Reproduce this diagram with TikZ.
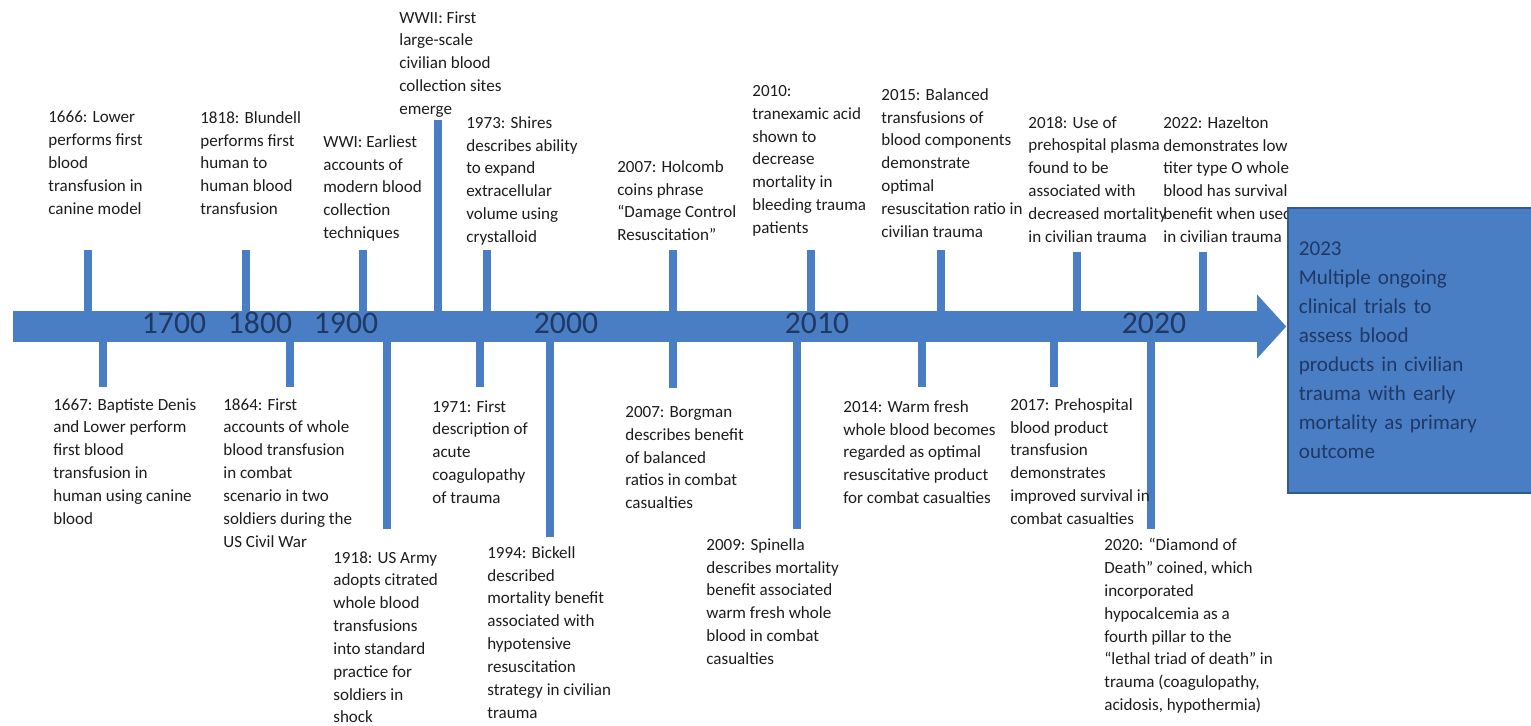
\documentclass[tikz,border=0pt]{standalone}
\usepackage{fontspec}
\setmainfont{Carlito}
\usepackage{xcolor}
\usepackage{tikz}
\usetikzlibrary{calc}
\definecolor{barblue}{HTML}{4A7EC4}
\definecolor{boxedge}{HTML}{35598F}
\definecolor{yearnavy}{HTML}{1F3864}
\definecolor{ink}{HTML}{1C1C1C}
\tikzset{
  eventtext/.style={
    anchor=north west, inner sep=0pt, align=left,
    font=\fontsize{9.7}{13}\selectfont, text=ink
  },
  yearlabel/.style={
    inner sep=0pt, font=\fontsize{18}{18}\selectfont, text=yearnavy
  },
  timebar/.style={
    rectangle, fill=barblue, inner sep=0pt,
    minimum width=24.88cm, minimum height=0.62cm
  },
  tickline/.style={draw=barblue, line width=4.5pt},
  outcomebox/.style={
    rectangle, draw=boxedge, fill=barblue, line width=1pt,
    anchor=north west, align=left, inner xsep=0.22cm,
    minimum width=4.88cm, minimum height=5.7cm, text width=4.44cm,
    font=\fontsize{12}{16.5}\selectfont, text=yearnavy
  },
}

\begin{document}
\begin{tikzpicture}[x=0.02cm, y=-0.02cm]
  \useasboundingbox (0,0) rectangle (1531,725);
  \node[timebar] (bar) at (635,326.5) {};
  \fill[barblue] ([yshift=0.32cm]bar.north east) -- ([xshift=0.58cm]bar.east) -- ([yshift=-0.32cm]bar.south east) -- cycle;
  \node[yearlabel] (y1700) at (174,323) {1700};
  \node[yearlabel] (y1800) at (260,323) {1800};
  \node[yearlabel] (y1900) at (346,323) {1900};
  \node[yearlabel] (y2000) at (566,323) {2000};
  \node[yearlabel] (y2010) at (817,323) {2010};
  \node[yearlabel] (y2020) at (1154,323) {2020};

  \coordinate (t1666) at (88,250);
  \coordinate (t1818) at (246,250);
  \coordinate (twwi) at (363,250);
  \coordinate (twwii) at (438,120);
  \coordinate (t1973) at (487,250);
  \coordinate (t2007h) at (673,250);
  \coordinate (t2010) at (811,250);
  \coordinate (t2015) at (941,250);
  \coordinate (t2018) at (1077,252);
  \coordinate (t2022) at (1203,252);
  \coordinate (t1667) at (103,387);
  \coordinate (t1864) at (290,387);
  \coordinate (t1918) at (387,529);
  \coordinate (t1971) at (480,387);
  \coordinate (t1994) at (550,537);
  \coordinate (t2007b) at (673,388);
  \coordinate (t2009) at (797,529);
  \coordinate (t2014) at (922,387);
  \coordinate (t2017) at (1054,387);
  \coordinate (t2020) at (1151,529);

  \draw[tickline] (t1666) -- (t1666 |- bar.north);
  \draw[tickline] (t1818) -- (t1818 |- bar.north);
  \draw[tickline] (twwi) -- (twwi |- bar.north);
  \draw[tickline] (twwii) -- (twwii |- bar.north);
  \draw[tickline] (t1973) -- (t1973 |- bar.north);
  \draw[tickline] (t2007h) -- (t2007h |- bar.north);
  \draw[tickline] (t2010) -- (t2010 |- bar.north);
  \draw[tickline] (t2015) -- (t2015 |- bar.north);
  \draw[tickline] (t2018) -- (t2018 |- bar.north);
  \draw[tickline] (t2022) -- (t2022 |- bar.north);
  \draw[tickline] (t1667) -- (t1667 |- bar.south);
  \draw[tickline] (t1864) -- (t1864 |- bar.south);
  \draw[tickline] (t1918) -- (t1918 |- bar.south);
  \draw[tickline] (t1971) -- (t1971 |- bar.south);
  \draw[tickline] (t1994) -- (t1994 |- bar.south);
  \draw[tickline] (t2007b) -- (t2007b |- bar.south);
  \draw[tickline] (t2009) -- (t2009 |- bar.south);
  \draw[tickline] (t2014) -- (t2014 |- bar.south);
  \draw[tickline] (t2017) -- (t2017 |- bar.south);
  \draw[tickline] (t2020) -- (t2020 |- bar.south);

  \node[eventtext] (e1666) at (48,111) {1666: Lower\\performs first\\blood\\transfusion in\\canine model};
  \node[eventtext] (e1818) at (200,111) {1818: Blundell\\performs first\\human to\\human blood\\transfusion};
  \node[eventtext] (ewwi) at (323,135) {WWI: Earliest\\accounts of\\modern blood\\collection\\techniques};
  \node[eventtext] (ewwii) at (399,11) {WWII: First\\large-scale\\civilian blood\\collection sites\\emerge};
  \node[eventtext] (e1973) at (466,116) {1973: Shires\\describes ability\\to expand\\extracellular\\volume using\\crystalloid};
  \node[eventtext] (e2007h) at (617,160) {2007: Holcomb\\coins phrase\\“Damage Control\\Resuscitation”};
  \node[eventtext] (e2010) at (752,85) {2010:\\tranexamic acid\\shown to\\decrease\\mortality in\\bleeding trauma\\patients};
  \node[eventtext] (e2015) at (881,88) {2015: Balanced\\transfusions of\\blood components\\demonstrate\\optimal\\resuscitation ratio in\\civilian trauma};
  \node[eventtext] (e2018) at (1028,116) {2018: Use of\\prehospital plasma\\found to be\\associated with\\decreased mortality\\in civilian trauma};
  \node[eventtext] (e2022) at (1163,116) {2022: Hazelton\\demonstrates low\\titer type O whole\\blood has survival\\benefit when used\\in civilian trauma};

  \node[eventtext] (e1667) at (53,398) {1667: Baptiste Denis\\and Lower perform\\first blood\\transfusion in\\human using canine\\blood};
  \node[eventtext] (e1864) at (223,398) {1864: First\\accounts of whole\\blood transfusion\\in combat\\scenario in two\\soldiers during the\\US Civil War};
  \node[eventtext] (e1918) at (333,551) {1918: US Army\\adopts citrated\\whole blood\\transfusions\\into standard\\practice for\\soldiers in\\shock};
  \node[eventtext] (e1971) at (432,400) {1971: First\\description of\\acute\\coagulopathy\\of trauma};
  \node[eventtext] (e1994) at (487,546) {1994: Bickell\\described\\mortality benefit\\associated with\\hypotensive\\resuscitation\\strategy in civilian\\trauma};
  \node[eventtext] (e2007b) at (625,406) {2007: Borgman\\describes benefit\\of balanced\\ratios in combat\\casualties};
  \node[eventtext] (e2009) at (706,538) {2009: Spinella\\describes mortality\\benefit associated\\warm fresh whole\\blood in combat\\casualties};
  \node[eventtext] (e2014) at (843,400) {2014: Warm fresh\\whole blood becomes\\regarded as optimal\\resuscitative product\\for combat casualties};
  \node[eventtext] (e2017) at (1010,398) {2017: Prehospital\\blood product\\transfusion\\demonstrates\\improved survival in\\combat casualties};
  \node[eventtext] (e2020) at (1104,538) {2020: “Diamond of\\Death” coined, which\\incorporated\\hypocalcemia as a\\fourth pillar to the\\“lethal triad of death” in\\trauma (coagulopathy,\\acidosis, hypothermia)};

  \node[outcomebox] (trials) at (1287,207) {2023\\Multiple ongoing\\clinical trials to\\assess blood\\products in civilian\\trauma with early\\mortality as primary\\outcome};
\end{tikzpicture}
\end{document}
